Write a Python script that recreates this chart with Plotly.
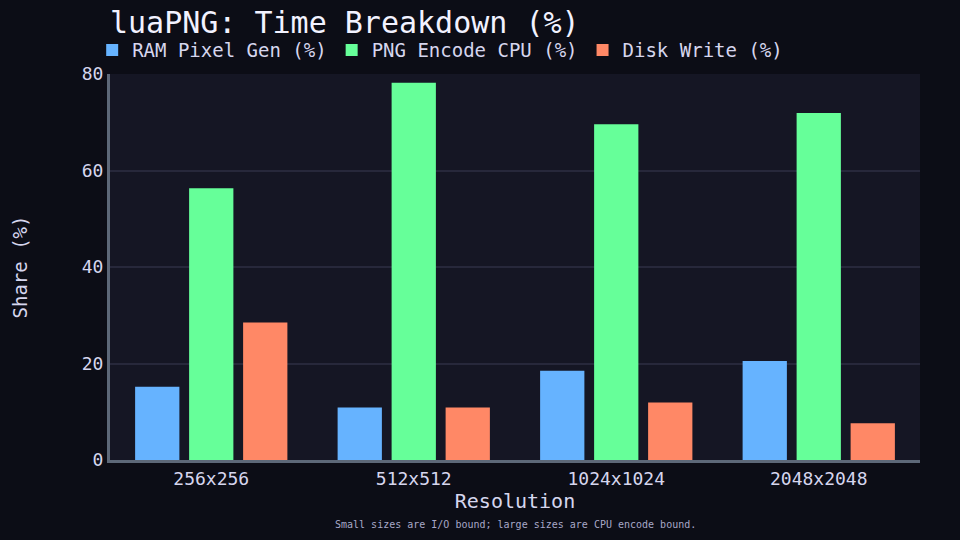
import plotly.graph_objects as go

resolutions = ["256x256", "512x512", "1024x1024", "2048x2048"]
ram_pixel_gen = [15.2, 10.9, 18.5, 20.5]
png_encode_cpu = [56.3, 78.2, 69.6, 71.9]
disk_write = [28.5, 10.9, 11.9, 7.6]

FONT = "DejaVu Sans Mono"
TEXT = "#d6d6ee"

fig = go.Figure()
for name, vals, color in [
    ("RAM Pixel Gen (%)", ram_pixel_gen, "#66b3ff"),
    ("PNG Encode CPU (%)", png_encode_cpu, "#66ff99"),
    ("Disk Write (%)", disk_write, "#ff8866"),
]:
    fig.add_trace(go.Bar(x=resolutions, y=vals, name=name, marker_color=color,
                         marker_line_width=0))

fig.update_layout(
    width=960, height=540,
    barmode="group", bargap=0.2, bargroupgap=0.18,
    paper_bgcolor="#0c0d16", plot_bgcolor="#151624",
    font=dict(family=FONT, color=TEXT, size=18),
    title=dict(text="luaPNG: Time Breakdown (%)", x=110 / 960, xanchor="left",
               y=1 - 22 / 540, yanchor="middle",
               font=dict(size=30, color="#f2f2ff")),
    legend=dict(orientation="h", x=-0.022, xanchor="left", y=1.062, yanchor="middle",
                font=dict(size=19), itemwidth=30, bgcolor="rgba(0,0,0,0)"),
    margin=dict(l=110, r=40, t=74, b=80),
    xaxis=dict(title=dict(text="Resolution", font=dict(size=20), standoff=6),
               showline=True, linecolor="#5d6878", linewidth=3,
               tickfont=dict(size=18), ticks=""),
    yaxis=dict(title=dict(text="Share (%)", font=dict(size=19), standoff=50),
               range=[0, 80], dtick=20, showline=True, linecolor="#5d6878",
               linewidth=3, gridcolor="#27283b", gridwidth=2, zeroline=False,
               tickfont=dict(size=18), ticks=""),
    annotations=[dict(text="Small sizes are I/O bound; large sizes are CPU encode bound.",
                      xref="paper", yref="paper", x=0.5, y=-0.168, yanchor="middle",
                      showarrow=False, font=dict(size=10, color="#a8a8c8"))],
)

# drop the default page margin so the figure fills the window
fig.write_html("out.html", config={"displayModeBar": False},
               post_script="document.body.style.margin='0';"
               "document.body.style.background='#0c0d16';")
